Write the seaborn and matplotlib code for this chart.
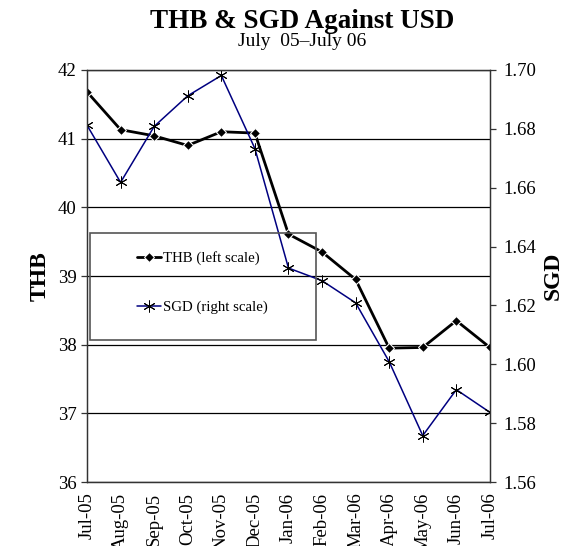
import pandas as pd
import numpy as np
import matplotlib
matplotlib.use("Agg")
import matplotlib.pyplot as plt
import seaborn as sns
from matplotlib.patches import Rectangle

# data
months = ["Jul-05", "Aug-05", "Sep-05", "Oct-05", "Nov-05", "Dec-05", "Jan-06",
          "Feb-06", "Mar-06", "Apr-06", "May-06", "Jun-06", "Jul-06"]
thb = [41.68, 41.13, 41.04, 40.90, 41.10, 41.08, 39.61, 39.35, 38.95, 37.95, 37.96, 38.35, 37.96]
sgd = [1.6812, 1.6618, 1.6808, 1.6912, 1.6981, 1.6733, 1.6327, 1.6284, 1.6209, 1.6009, 1.5758, 1.5914, 1.5837]
thb_ticks = [36, 37, 38, 39, 40, 41, 42]
sgd_ticks = [1.56, 1.58, 1.60, 1.62, 1.64, 1.66, 1.68, 1.70]

df = pd.DataFrame({"Month": months, "THB": thb, "SGD": sgd})

sns.set_style("white")
plt.rcParams["font.family"] = ["Liberation Serif", "DejaVu Serif"]
plt.rcParams["text.color"] = "black"
plt.rcParams["axes.labelcolor"] = "black"

fig = plt.figure(figsize=(5.86, 5.46), dpi=100)
ax = fig.add_axes([0.1485, 0.117, 0.6875, 0.755])
ax2 = ax.twinx()

sns.lineplot(data=df, x="Month", y="THB", ax=ax, sort=False, color="black",
             marker="D", markersize=5, linewidth=2, label="THB (left scale)")
sns.lineplot(data=df, x="Month", y="SGD", ax=ax2, sort=False, color="#000080",
             marker=(6, 2, 0), markersize=8.5, markeredgecolor="black",
             markeredgewidth=0.7, linewidth=1.1, label="SGD (right scale)")

ax.set_xlim(0, len(months) - 1)
ax.set_ylim(36, 42)
ax2.set_ylim(1.56, 1.70)
ax.set_yticks(thb_ticks)
ax2.set_yticks(sgd_ticks)
ax2.set_yticklabels([f"{v:.2f}" for v in sgd_ticks])
ax.set_xticks(range(len(months)))
ax.set_xticklabels(months, rotation=90)

ax.yaxis.grid(True, color="black", linewidth=0.9)
ax.xaxis.grid(False)
for a in (ax, ax2):
    for s in a.spines.values():
        s.set_color("#333333")
        s.set_linewidth(0.9)
    a.tick_params(direction="out", length=4.5, width=0.9, colors="#333333",
                  labelcolor="black", labelsize=13.5)
ax.tick_params(axis="y", pad=3)
ax2.tick_params(axis="y", pad=5)
ax.tick_params(axis="x", pad=3)

ax.set_xlabel("")
ax.set_ylabel("THB", fontsize=17, fontweight="bold", labelpad=5)
ax2.set_ylabel("SGD", fontsize=17, fontweight="bold", labelpad=5)

# legend: transparent box with separate frame
h1, l1 = ax.get_legend_handles_labels()
h2, l2 = ax2.get_legend_handles_labels()
ax.get_legend().remove()
ax2.get_legend().remove()
ax2.add_patch(Rectangle((0.0074, 0.345), 0.56, 0.26, transform=ax2.transAxes,
                        fill=False, edgecolor="#555555", linewidth=1.2, zorder=5))
ax2.legend(h1 + h2, l1 + l2, loc="upper left", bbox_to_anchor=(0.125, 0.56),
           frameon=False, fontsize=10.7, labelspacing=2.4, handlelength=1.6,
           handletextpad=0.15, borderpad=0, borderaxespad=0)

fig.text(0.515, 0.96, "THB & SGD Against USD", ha="center", va="center",
         fontsize=19.5, fontweight="bold")
fig.text(0.515, 0.924, "July  05\u2013July 06", ha="center", va="center", fontsize=14)

plt.savefig("out.png", dpi=100)
